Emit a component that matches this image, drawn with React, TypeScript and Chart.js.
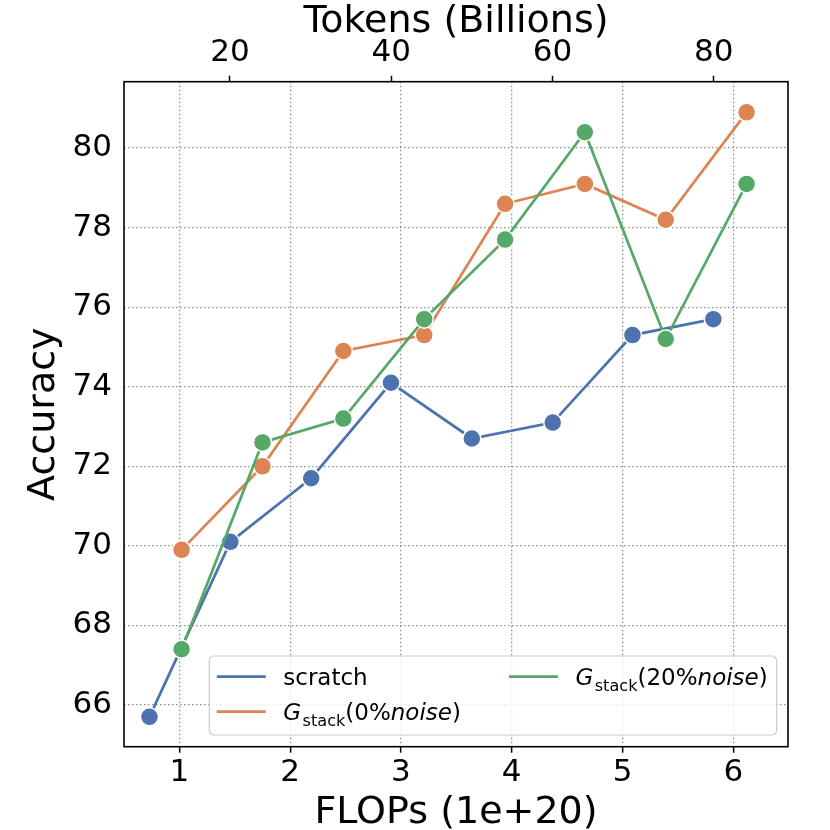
import React, { useEffect, useRef } from 'react';
import { Chart, registerables } from 'chart.js';

Chart.register(...registerables);

const FONT = '"DejaVu Sans", "Liberation Sans", sans-serif';

// ---- data ----
const scratchFlops = [0.73, 1.46, 2.19, 2.91, 3.64, 4.37, 5.09, 5.82];
const scratchAcc = [65.7, 70.1, 71.7, 74.1, 72.7, 73.1, 75.3, 75.7];
const gstackFlops = [1.02, 1.75, 2.48, 3.21, 3.94, 4.66, 5.39, 6.12];
const gstack0Acc = [69.9, 72.0, 74.9, 75.3, 78.6, 79.1, 78.2, 80.9];
const gstack20Acc = [67.4, 72.6, 73.2, 75.7, 77.7, 80.4, 75.2, 79.1];

const flopsTicks = [1, 2, 3, 4, 5, 6];
const tokenTicks = [20, 40, 60, 80];
const accTicks = [66, 68, 70, 72, 74, 76, 78, 80];

const seriesNames = ['scratch', 'G_stack(0% noise)', 'G_stack(20% noise)'];
const seriesColors = ['#4c72b0', '#dd8452', '#55a868'];

type Seg = { text: string; italic?: boolean; sub?: boolean };
const legendLabels: Seg[][] = [
  [{ text: 'scratch' }],
  [{ text: 'G', italic: true }, { text: 'stack', sub: true }, { text: '(0%' }, { text: 'noise', italic: true }, { text: ')' }],
  [{ text: 'G', italic: true }, { text: 'stack', sub: true }, { text: '(20%' }, { text: 'noise', italic: true }, { text: ')' }],
];
const legendColumns = [[0, 1], [2]];

function segFont(seg: Seg, size: number) {
  const s = seg.sub ? size * 0.7 : size;
  return `${seg.italic ? 'italic ' : ''}${s}px ${FONT}`;
}
function measureRich(ctx: CanvasRenderingContext2D, segs: Seg[], size: number) {
  let w = 0;
  for (const seg of segs) {
    ctx.font = segFont(seg, size);
    w += ctx.measureText(seg.text).width + (seg.sub ? 1.5 : 0);
  }
  return w;
}
function drawRich(ctx: CanvasRenderingContext2D, segs: Seg[], x: number, y: number, size: number) {
  let cx = x;
  for (const seg of segs) {
    ctx.font = segFont(seg, size);
    const dy = seg.sub ? size * 0.24 : 0;
    if (seg.sub) cx += 1.5;
    ctx.fillText(seg.text, cx, y + dy);
    cx += ctx.measureText(seg.text).width;
  }
}

const framePlugin = {
  id: 'frame',
  afterDatasetsDraw(chart: any) {
    const { ctx, chartArea: a } = chart;
    ctx.save();
    ctx.strokeStyle = '#000';
    ctx.lineWidth = 1.6;
    ctx.strokeRect(a.left, a.top, a.right - a.left, a.bottom - a.top);
    ctx.restore();
  },
};

const legendPlugin = {
  id: 'richLegend',
  afterDraw(chart: any) {
    const { ctx, chartArea: a } = chart;
    const fs = 23;
    const handleLen = 49;
    const handleGap = 17.5;
    const colSpace = 48;
    const padL = 7.5;
    const padR = 9;
    const rowH = 35;
    const boxH = 79;
    ctx.save();
    const widths = legendLabels.map((s) => measureRich(ctx, s, fs));
    const colW = legendColumns.map((c) => handleLen + handleGap + Math.max(...c.map((i) => widths[i])));
    const boxW = padL + colW.reduce((p, v) => p + v, 0) + colSpace * (colW.length - 1) + padR;
    const right = a.right - 11.3;
    const bottom = a.bottom - 11.7;
    const left = right - boxW;
    const top = bottom - boxH;
    ctx.beginPath();
    (ctx as any).roundRect(left, top, boxW, boxH, 5);
    ctx.fillStyle = 'rgba(255,255,255,0.8)';
    ctx.fill();
    ctx.strokeStyle = '#cccccc';
    ctx.lineWidth = 1.2;
    ctx.stroke();
    let cx = left + padL;
    legendColumns.forEach((col, ci) => {
      col.forEach((idx, ri) => {
        const y = top + 20.7 + ri * rowH;
        ctx.beginPath();
        ctx.strokeStyle = chart.data.datasets[idx].borderColor;
        ctx.lineWidth = 2.7;
        ctx.moveTo(cx, y);
        ctx.lineTo(cx + handleLen, y);
        ctx.stroke();
        ctx.fillStyle = '#000';
        ctx.textBaseline = 'alphabetic';
        ctx.textAlign = 'left';
        drawRich(ctx, legendLabels[idx], cx + handleLen + handleGap, y + 8.5, fs);
      });
      cx += colW[ci] + colSpace;
    });
    ctx.restore();
  },
};

function makeDataset(i: number, xs: number[], ys: number[], order: number) {
  return {
    label: seriesNames[i],
    data: xs.map((x, k) => ({ x, y: ys[k] })),
    borderColor: seriesColors[i],
    backgroundColor: seriesColors[i],
    pointBackgroundColor: seriesColors[i],
    pointBorderColor: '#ffffff',
    pointBorderWidth: 1.5,
    pointRadius: 9,
    borderWidth: 2.7,
    tension: 0,
    order,
    xAxisID: 'x',
    yAxisID: 'y',
  };
}

const gridDotted = {
  color: '#8f8f8f',
  lineWidth: 1.3,
};
const dottedBorder = { display: false, dash: [1.5, 2.5] };

export default function App() {
  const ref = useRef<HTMLCanvasElement | null>(null);
  useEffect(() => {
    if (!ref.current) return;
    const chart = new Chart(ref.current, {
      type: 'line',
      data: {
        datasets: [
          makeDataset(0, scratchFlops, scratchAcc, 2),
          makeDataset(1, gstackFlops, gstack0Acc, 1),
          makeDataset(2, gstackFlops, gstack20Acc, 0),
        ] as any,
      },
      options: {
        responsive: false,
        animation: false,
        layout: { padding: { left: 0, right: 42, top: 0, bottom: 0 } },
        plugins: { legend: { display: false }, tooltip: { enabled: false } },
        scales: {
          x: {
            type: 'linear',
            position: 'bottom',
            min: 0.5,
            max: 6.494,
            afterBuildTicks: (s: any) => {
              s.ticks = flopsTicks.map((v) => ({ value: v }));
            },
            afterFit: (s: any) => {
              s.height = 83.3;
            },
            ticks: {
              font: { family: FONT, size: 31 },
              color: '#000',
              padding: 1.6,
              maxRotation: 0,
              autoSkip: false,
              callback: (v: any) => String(v),
            },
            grid: {
              ...gridDotted,
              drawTicks: true,
              tickLength: 6,
              tickColor: '#000',
              tickWidth: 1.5,
              tickBorderDash: [],
            },
            border: dottedBorder,
            title: {
              display: true,
              text: 'FLOPs (1e+20)',
              font: { family: FONT, size: 38 },
              color: '#000',
              padding: { top: 0, bottom: -6.4 },
            },
          },
          xTop: {
            type: 'linear',
            position: 'top',
            min: 6.87,
            max: 89.2,
            afterBuildTicks: (s: any) => {
              s.ticks = tokenTicks.map((v) => ({ value: v }));
            },
            afterFit: (s: any) => {
              s.height = 81.7;
            },
            ticks: {
              font: { family: FONT, size: 31 },
              color: '#000',
              padding: 4.5,
              maxRotation: 0,
              autoSkip: false,
              callback: (v: any) => String(v),
            },
            grid: {
              drawOnChartArea: false,
              drawTicks: true,
              tickLength: 6,
              tickColor: '#000',
              tickWidth: 1.5,
              color: '#000',
            },
            border: { display: false },
            title: {
              display: true,
              text: 'Tokens (Billions)',
              font: { family: FONT, size: 38 },
              color: '#000',
              padding: { top: -0.4, bottom: 0 },
            },
          },
          y: {
            type: 'linear',
            position: 'left',
            min: 64.95,
            max: 81.67,
            afterBuildTicks: (s: any) => {
              s.ticks = accTicks.map((v) => ({ value: v }));
            },
            afterFit: (s: any) => {
              s.width = 124;
            },
            ticks: {
              font: { family: FONT, size: 31 },
              color: '#000',
              padding: 12,
              autoSkip: false,
              callback: (v: any) => String(v),
            },
            grid: { ...gridDotted, drawTicks: false },
            border: dottedBorder,
            title: {
              display: true,
              text: 'Accuracy',
              font: { family: FONT, size: 38 },
              color: '#000',
              padding: { top: 21.2, bottom: 0 },
            },
          },
        },
      } as any,
      plugins: [framePlugin, legendPlugin],
    });
    return () => chart.destroy();
  }, []);
  return (
    <div style={{ position: 'absolute', left: 0, top: 0, width: 830, height: 830, background: '#fff' }}>
      <canvas ref={ref} width={830} height={830} style={{ width: 830, height: 830, display: 'block' }} />
    </div>
  );
}
